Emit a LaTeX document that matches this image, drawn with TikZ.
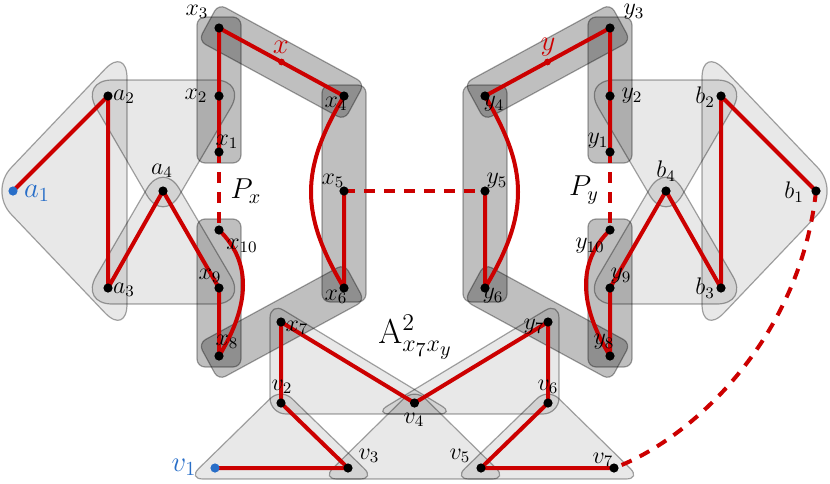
\documentclass[tikz,border=0pt]{standalone}
\usepackage{amsmath}
\definecolor{pathred}{RGB}{204,0,0}
\definecolor{endblue}{RGB}{40,110,200}

\begin{document}
\begin{tikzpicture}[x=0.5pt,y=-0.5pt]
\tikzstyle{every node}+=[inner sep=0pt]
\tikzstyle{hedge}=[fill=black,fill opacity=0.09,draw=black,draw opacity=0.35,line width=0.6pt,rounded corners=16pt]
\tikzstyle{pedge}=[fill=black,fill opacity=0.25,draw=black,draw opacity=0.35,line width=0.6pt,rounded corners=4pt]
\tikzstyle{redge}=[draw=pathred,line width=2pt,line join=round]
\tikzstyle{gap}=[redge,dash pattern=on 5.5pt off 4.5pt]
\tikzstyle{lbl}=[font=\large]
\tikzstyle{big}=[font=\Large]
\useasboundingbox (0,0) rectangle (830,483);
% vertices
\coordinate (a1) at (13,191);
\coordinate (a2) at (108,96);
\coordinate (a3) at (108,288);
\coordinate (a4) at (163,191);
\coordinate (b1) at (816,191);
\coordinate (b2) at (721,96);
\coordinate (b3) at (721,288);
\coordinate (b4) at (666,191);
\coordinate (x1) at (219,152);
\coordinate (x2) at (219,96);
\coordinate (x3) at (219,28);
\coordinate (x4) at (344,96);
\coordinate (x5) at (344,191);
\coordinate (x6) at (344,288);
\coordinate (x7) at (281,322);
\coordinate (x8) at (219,356);
\coordinate (x9) at (219,288);
\coordinate (x10) at (219,230);
\coordinate (xm) at (281.5,62);
\coordinate (y1) at (610,152);
\coordinate (y2) at (610,96);
\coordinate (y3) at (610,28);
\coordinate (y4) at (485,96);
\coordinate (y5) at (485,191);
\coordinate (y6) at (485,288);
\coordinate (y7) at (548,322);
\coordinate (y8) at (610,356);
\coordinate (y9) at (610,288);
\coordinate (y10) at (610,230);
\coordinate (ym) at (547.5,62);
\coordinate (v1) at (215,468);
\coordinate (v2) at (281,403);
\coordinate (v3) at (348,468);
\coordinate (v4) at (414.5,403);
\coordinate (v5) at (481,468);
\coordinate (v6) at (548,403);
\coordinate (v7) at (614,468);
% light hyperedges
\draw[hedge] (127,46) -- (-11,191) -- (127,336) -- cycle;
\draw[hedge] (80,80) -- (247,80) -- (163,223) -- cycle;
\draw[hedge] (163,161) -- (247,304) -- (80,304) -- cycle;
\draw[hedge] (702,46) -- (840,191) -- (702,336) -- cycle;
\draw[hedge] (749,80) -- (582,80) -- (666,223) -- cycle;
\draw[hedge] (666,161) -- (582,304) -- (749,304) -- cycle;
\draw[hedge,rounded corners=8pt] (270,302) -- (270,414) -- (455,414) -- cycle;
\draw[hedge,rounded corners=8pt] (559,302) -- (559,414) -- (374,414) -- cycle;
\draw[hedge,rounded corners=7.5pt] (188,479) -- (281,388) -- (375,479) -- cycle;
\draw[hedge,rounded corners=7.5pt] (322,479) -- (414.5,388) -- (507,479) -- cycle;
\draw[hedge,rounded corners=7.5pt] (454,479) -- (548,388) -- (641,479) -- cycle;
% path edges of P_x and P_y
\draw[pedge] (197,17) rectangle (241,163);
\draw[pedge] (218.5,3.9) -- (364.5,83.3) -- (344.5,120.1) -- (198.5,40.7) -- cycle;
\draw[pedge] (322,85) rectangle (366,302);
\draw[pedge] (198.5,343.3) -- (344.5,263.9) -- (364.5,300.7) -- (218.5,380.1) -- cycle;
\draw[pedge] (197,219) rectangle (241,367);
\draw[pedge] (588,17) rectangle (632,163);
\draw[pedge] (610.5,3.9) -- (464.5,83.3) -- (484.5,120.1) -- (630.5,40.7) -- cycle;
\draw[pedge] (463,85) rectangle (507,302);
\draw[pedge] (630.5,343.3) -- (484.5,263.9) -- (464.5,300.7) -- (610.5,380.1) -- cycle;
\draw[pedge] (588,219) rectangle (632,367);
% red edges
\draw[redge] (a1) -- (a2) -- (a3) -- (a4) -- (x9) -- (x8);
\draw[redge] (x10) .. controls (252,262) and (250,305) .. (x8);
\draw[redge] (x1) -- (x2) -- (x3) -- (x4);
\draw[redge] (x4) .. controls (300,170) and (300,214) .. (x6) -- (x5);
\draw[redge] (b1) -- (b2) -- (b3) -- (b4) -- (y9) -- (y8);
\draw[redge] (y10) .. controls (577,262) and (579,305) .. (y8);
\draw[redge] (y1) -- (y2) -- (y3) -- (y4);
\draw[redge] (y4) .. controls (529,170) and (529,214) .. (y6) -- (y5);
\draw[redge] (x7) -- (v2) -- (v3) -- (v1);
\draw[redge] (x7) -- (v4) -- (y7);
\draw[redge] (y7) -- (v6) -- (v5) -- (v7);
\draw[gap] (x1) -- (x10);
\draw[gap] (y1) -- (y10);
\draw[gap] (x5) -- (y5);
\draw[gap] (b1) .. controls (800,340) and (690,440) .. (v7);
% vertices
\foreach \v in {a2,a3,a4,b1,b2,b3,b4,x1,x2,x3,x4,x5,x6,x7,x8,x9,x10,y1,y2,y3,y4,y5,y6,y7,y8,y9,y10,v2,v3,v4,v5,v6,v7}
  \fill (\v) circle (2.3pt);
\fill[endblue] (a1) circle (2.3pt);
\fill[endblue] (v1) circle (2.3pt);
\fill[pathred] (xm) circle (1.7pt);
\fill[pathred] (ym) circle (1.7pt);
% labels
\node[big,text=endblue] (la1) at (37,193) {$a_1$};
\node[lbl] (la2) at (124,97) {$a_2$};
\node[lbl] (la3) at (124,290) {$a_3$};
\node[lbl] (la4) at (162,171) {$a_4$};
\node[lbl] (lb1) at (794,192) {$b_1$};
\node[lbl] (lb2) at (705,97) {$b_2$};
\node[lbl] (lb3) at (705,288) {$b_3$};
\node[lbl] (lb4) at (666,171) {$b_4$};
\node[lbl] (lx1) at (227,142) {$x_1$};
\node[lbl] (lx2) at (196,96) {$x_2$};
\node[lbl] (lx3) at (197,12) {$x_3$};
\node[lbl] (lx4) at (336,104) {$x_4$};
\node[lbl] (lx5) at (333,181) {$x_5$};
\node[lbl] (lx6) at (336,297) {$x_6$};
\node[lbl] (lx7) at (297,328) {$x_7$};
\node[lbl] (lx8) at (227,342) {$x_8$};
\node[lbl] (lx9) at (210,276) {$x_9$};
\node[lbl] (lx10) at (242,246) {$x_{10}$};
\node[big,text=pathred] (lxm) at (281,47) {$x$};
\node[big] (lPx) at (246,191) {$P_x$};
\node[lbl] (ly1) at (598,141) {$y_1$};
\node[lbl] (ly2) at (632,96) {$y_2$};
\node[lbl] (ly3) at (634,12) {$y_3$};
\node[lbl] (ly4) at (494,104) {$y_4$};
\node[lbl] (ly5) at (497,181) {$y_5$};
\node[lbl] (ly6) at (493,296) {$y_6$};
\node[lbl] (ly7) at (534,327) {$y_7$};
\node[lbl] (ly8) at (604,342) {$y_8$};
\node[lbl] (ly9) at (621,276) {$y_9$};
\node[lbl] (ly10) at (590,246) {$y_{10}$};
\node[big,text=pathred] (lym) at (548,47) {$y$};
\node[big] (lPy) at (584,190) {$P_y$};
\node[big,text=endblue] (lv1) at (184,467) {$v_1$};
\node[lbl] (lv2) at (282,387) {$v_2$};
\node[lbl] (lv3) at (369,456) {$v_3$};
\node[lbl] (lv4) at (414,420) {$v_4$};
\node[lbl] (lv5) at (460,456) {$v_5$};
\node[lbl] (lv6) at (548,387) {$v_6$};
\node[lbl] (lv7) at (603,460) {$v_7$};
\node[font=\LARGE,anchor=base west] (lA) at (378,343) {$\mathrm{A}^2_{x_7x_y}$};
\end{tikzpicture}
\end{document}
